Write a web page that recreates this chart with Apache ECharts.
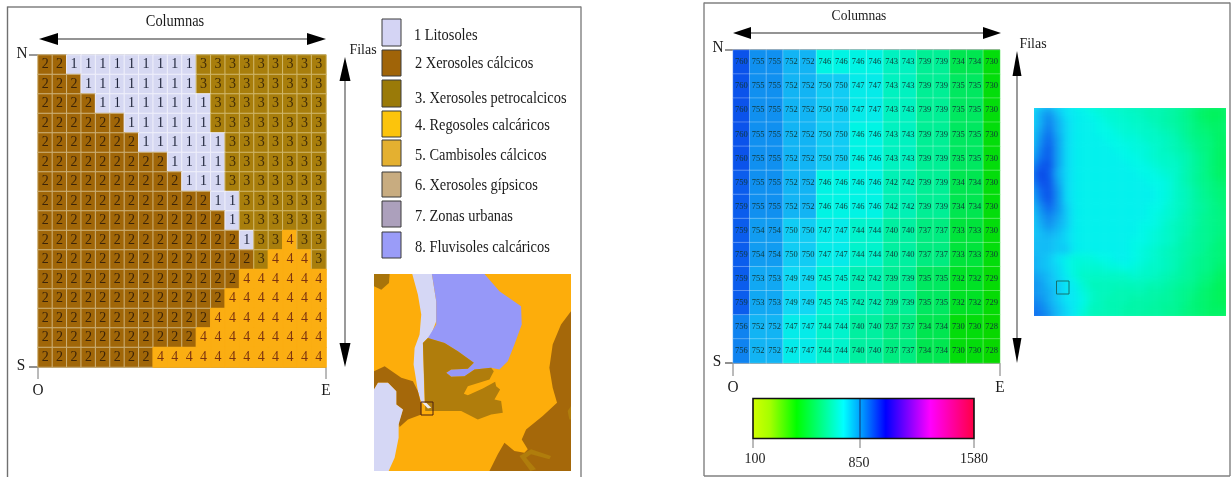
<!DOCTYPE html>
<html>
<head>
<meta charset="utf-8">
<style>
html,body{margin:0;padding:0;background:#fff}
#c{position:absolute;left:0;top:0;width:1231px;height:477px;filter:blur(0.45px);z-index:2}
#demClip{position:absolute;left:1034px;top:108px;width:192px;height:208px;overflow:hidden;z-index:1}
#dem{position:absolute;left:-6px;top:-6px;width:204px;height:220px;filter:blur(3.5px)}
</style>
<script src="https://cdn.jsdelivr.net/npm/echarts@6/dist/echarts.min.js"></script>
</head>
<body>
<div id="demClip"><div id="dem"></div></div>
<div id="c"></div>
<script>
// Soil classes per cell, one string per row (north to south), one digit per column
const soilRows = [
  '22111111111333333333',
  '22211111111333333333',
  '22221111111133333333',
  '22222211111133333333',
  '22222221111113333333',
  '22222222211113333333',
  '22222222221113333333',
  '22222222222211333333',
  '22222222222221333333',
  '22222222222222133433',
  '22222222222222234443',
  '22222222222222444444',
  '22222222222224444444',
  '22222222222244444444',
  '22222222222444444444',
  '22222222444444444444'
];
const soilLegend = ['1 Litosoles','2 Xerosoles cálcicos','3. Xerosoles petrocalcicos','4. Regosoles calcáricos',
  '5. Cambisoles cálcicos','6. Xerosoles gípsicos','7. Zonas urbanas','8. Fluvisoles calcáricos'];
const legendColors = ['#d4d4f4','#a06408','#9a7a08','#fcc40c','#e4b030','#c8ac80','#aca0bc','#9a9cf8'];
const soilCellColors = {1:'#d6d8f2',2:'#a06608',3:'#a87e0c',4:'#fbae12'};
const soilBorderColors = {1:'#f0f0fb',2:'#cdb27a',3:'#d0b86c',4:'#fbae12'};
const soilTextColors = {1:'#20263c',2:'#3c2408',3:'#402c08',4:'#7c3410'};

// Elevation per cell, north to south
const elevRows = [
  [760,755,755,752,752,746,746,746,746,743,743,739,739,734,734,730],
  [760,755,755,752,752,750,750,747,747,743,743,739,739,735,735,730],
  [760,755,755,752,752,750,750,747,747,743,743,739,739,735,735,730],
  [760,755,755,752,752,750,750,746,746,743,743,739,739,735,735,730],
  [760,755,755,752,752,750,750,746,746,743,743,739,739,735,735,730],
  [759,755,755,752,752,746,746,746,746,742,742,739,739,734,734,730],
  [759,755,755,752,752,746,746,746,746,742,742,739,739,734,734,730],
  [759,754,754,750,750,747,747,744,744,740,740,737,737,733,733,730],
  [759,754,754,750,750,747,747,744,744,740,740,737,737,733,733,730],
  [759,753,753,749,749,745,745,742,742,739,739,735,735,732,732,729],
  [759,753,753,749,749,745,745,742,742,739,739,735,735,732,732,729],
  [756,752,752,747,747,744,744,740,740,737,737,734,734,730,730,728],
  [756,752,752,747,747,744,744,740,740,737,737,734,734,730,730,728]
];
// Elevation raster of the inset, read by eye
const demRows = [
  [749,751,752,750,749,747,746,745,744,744,743,743,742,742,741,741,740,739,738,736,734,733,733,734],
  [750,753,755,752,749,748,747,746,745,744,744,743,743,742,741,741,740,739,737,735,733,732,732,733],
  [750,753,756,753,750,748,747,747,746,745,744,744,743,743,742,741,740,739,738,736,734,733,733,734],
  [751,754,757,753,750,748,747,747,746,746,745,744,744,743,743,742,741,740,738,736,735,734,733,734],
  [751,755,758,754,750,748,747,747,747,746,746,745,745,744,743,743,742,741,739,737,736,735,733,733],
  [752,756,759,754,750,748,747,747,747,747,746,746,745,745,744,743,742,741,740,738,736,735,733,733],
  [753,757,759,754,750,748,747,747,747,747,747,746,746,745,744,743,743,742,741,739,737,735,733,732],
  [755,759,760,754,750,748,747,747,747,747,747,747,746,746,745,744,743,743,741,739,737,735,733,732],
  [757,761,759,753,750,748,747,747,747,747,747,747,747,746,746,745,744,743,741,739,737,735,733,733],
  [756,760,760,754,750,748,747,747,747,747,747,747,747,747,746,746,745,743,741,739,737,736,734,733],
  [754,758,760,755,750,748,747,747,747,747,747,747,747,747,747,746,745,743,742,740,738,736,735,734],
  [753,757,760,755,750,748,747,747,747,747,747,747,747,747,747,746,745,743,742,740,738,737,735,734],
  [752,755,758,755,751,748,747,747,747,747,747,747,747,747,746,746,744,743,742,740,739,737,736,734],
  [751,754,756,754,751,748,747,747,747,747,747,747,747,747,746,745,744,743,741,740,738,737,736,735],
  [751,753,755,753,751,748,747,747,747,747,747,747,747,746,746,745,743,742,741,740,738,737,736,735],
  [751,752,753,752,750,748,747,747,747,747,747,747,747,746,745,744,743,742,741,739,738,737,736,735],
  [752,752,752,751,750,748,747,747,747,747,747,747,746,746,745,744,743,742,740,739,738,737,735,734],
  [752,752,752,751,751,748,747,747,747,747,747,747,746,745,744,743,742,741,740,739,738,736,735,734],
  [753,752,751,749,747,745,745,745,746,746,747,747,746,745,744,743,742,741,740,738,737,736,735,734],
  [753,752,751,750,747,745,744,744,744,745,745,746,745,744,743,743,742,741,739,738,737,736,734,733],
  [754,753,752,750,748,745,743,743,743,743,743,743,744,743,743,742,741,740,739,738,736,735,733,732],
  [755,754,752,751,749,747,744,742,742,742,742,742,742,742,741,741,740,739,738,737,735,734,732,732],
  [755,754,753,751,749,748,745,743,742,742,741,741,741,741,740,740,739,738,737,736,734,733,732,731],
  [756,755,753,751,749,748,746,743,742,741,741,741,740,740,740,739,739,738,737,735,734,733,732,731],
  [757,756,754,752,750,748,745,742,742,741,741,740,740,740,739,739,738,738,736,735,734,733,733,732],
  [758,757,755,752,750,748,744,742,741,741,741,740,740,739,739,739,738,737,736,735,734,733,733,733]
];
const elevColors = ['#08d800','#00e010','#00e650','#00ec80','#00f0a0','#00f2c0','#00f4e4','#10d8f4','#12b4f4','#1090f0','#0c68f0','#0a48e8'];
const demColors = ['#00ee30','#00f250','#00f470','#00f68c','#00f6a8','#00f8c8','#00f8e8','#08e4f6','#12bcf6','#1090f0','#0c68f0','#0a48e8'];

// Soil inset: outlines in the inset's own map units, with their classes
const insetBackground = '#fdad0b';
const insetRegions = [
  {name:'3', fill:'#a8740a', pts:[[18,18],[65,18],[63,45],[40,65],[18,55]]},
  {name:'1', fill:'#d5d7f5', pts:[[133,18],[192,18],[205,100],[205,160],[190,200],[165,225],[170,405],[160,405],[150,370],[137,290],[140,240],[155,200],[160,140],[150,80]]},
  {name:'8', fill:'#9698f8', pts:[[192,18],[350,18],[395,70],[460,115],[462,170],[440,230],[420,280],[395,305],[370,300],[320,305],[290,325],[250,327],[235,315],[250,305],[300,303],[318,285],[270,250],[230,225],[180,210],[205,170],[205,100]]},
  {name:'3', fill:'#b07d0c', pts:[[165,225],[180,210],[230,225],[270,250],[318,285],[300,303],[250,305],[235,315],[250,327],[290,325],[320,305],[370,300],[378,310],[365,335],[300,355],[288,378],[300,382],[345,362],[382,342],[385,355],[397,365],[380,395],[400,400],[405,435],[370,440],[330,455],[280,430],[172,430]]},
  {name:'2', fill:'#a5680a', pts:[[18,310],[50,295],[100,330],[135,340],[150,370],[160,410],[160,440],[120,455],[95,478],[92,465],[105,425],[85,410],[85,370],[60,345],[30,345],[18,365]]},
  {name:'1', fill:'#d5d7f5', pts:[[18,365],[30,345],[60,345],[85,370],[85,410],[105,425],[92,470],[92,510],[80,570],[62,610],[18,610]]},
  {name:'2', fill:'#a5680a', pts:[[610,130],[580,170],[555,230],[545,300],[555,360],[568,405],[525,445],[475,485],[462,515],[480,545],[470,555],[440,550],[410,525],[390,560],[365,610],[610,610]]},
  {name:'3', fill:'#b07d0c', pts:[[455,565],[490,545],[550,565],[545,575],[490,560],[475,570],[505,605],[488,610]]},
  {name:'3', fill:'#b07d0c', pts:[[610,415],[600,430],[605,455],[610,455]]},
  {name:'1', fill:'#eeeaf0', pts:[[164,406],[175,405],[190,420],[180,422]]}
];

const colorbarStops = [[0,'#d4ff00'],[0.08,'#a4ff00'],[0.2,'#00ff00'],[0.41,'#00ffff'],[0.5,'#0090ff'],[0.6,'#0000ff'],[0.8,'#ff00ff'],[1,'#ff0040']];
const colorbarTicks = ['100','850','1580'];

const SERIF = '"Liberation Serif", serif';
const soilData = [];
soilRows.forEach((row, r) => row.split('').forEach((d, c) => {
  soilData.push({value:[c, r, +d], itemStyle:{color:soilCellColors[d], borderColor:soilBorderColors[d], borderWidth:1},
    label:{color:soilTextColors[d]}});
}));
const elevData = [];
elevRows.forEach((row, r) => row.forEach((v, c) => elevData.push([c, r, v])));
const demData = [];
demRows.forEach((row, r) => row.forEach((v, c) => demData.push([c, r, v])));
const idx = n => Array.from({length:n}, (_, i) => i);

function catAxes(grid, nx, ny){
  return {
    x:{type:'category', gridIndex:grid, data:idx(nx), show:false},
    y:{type:'category', gridIndex:grid, data:idx(ny), show:false, inverse:true}
  };
}
const a0 = catAxes(0, 20, soilRows.length), a2 = catAxes(2, 16, elevRows.length), a3 = catAxes(0, 24, demRows.length);
const a1x = {type:'value', gridIndex:1, min:18, max:610, show:false};
const a1y = {type:'value', gridIndex:1, min:18, max:610, inverse:true, show:false};

// ---- decorations -----
const g = [];
const line = (x1,y1,x2,y2,stroke,w) => g.push({type:'line', silent:true, shape:{x1,y1,x2,y2}, style:{stroke, lineWidth:w||1}});
const text = (x,y,t,size,align) => g.push({type:'text', silent:true, x, y, scaleX:0.9, style:{text:t, font:size+'px '+SERIF, fill:'#1a1a1a', align:align||'center', verticalAlign:'middle'}});
const tri = (pts) => g.push({type:'polygon', silent:true, shape:{points:pts}, style:{fill:'#000'}});
function hArrow(x1,x2,y,len,half){
  line(x1+len-2,y,x2-len+2,y,'#707070',1.4);
  tri([[x1,y],[x1+len,y-half],[x1+len,y+half]]);
  tri([[x2,y],[x2-len,y-half],[x2-len,y+half]]);
}
function vArrow(x,y1,y2,len,half){
  line(x,y1+len-2,x,y2-len+2,'#707070',1.4);
  tri([[x,y1],[x-half,y1+len],[x+half,y1+len]]);
  tri([[x,y2],[x-half,y2-len],[x+half,y2-len]]);
}
// frames
line(7.5,7,581,7,'#808080',1.4); line(7.5,6.5,7.5,477,'#707070',1.4); line(581,6.5,581,477,'#808080',1.4);
line(704,3,1230,3,'#808080',1.4); line(704,2.5,704,476,'#808080',1.4); line(704,476,1230,476,'#808080',1.4); line(1230,2.5,1230,476,'#808080',1.4);

// left panel
text(175,22,'Columnas',16);
hArrow(39,326,39,19,6);
vArrow(345,57,367,24,5.5);
text(363,50,'Filas',15.5);
line(29,55,326,55,'#333',1); line(29,367,326,367,'#222',1.2);
line(38,367,38,379,'#777',1); line(326,367,326,379,'#777',1);
text(22,54,'N',17); text(21,366,'S',17); text(38,391,'O',17); text(326,391,'E',17);

// soil legend
const swatchY = [19,50,80,111,140,172,201,232], swatchH = [27,26,27,26,26,25,26,26], labelY = [36,64,99,126,156,186,217,248];
soilLegend.forEach((name,i) => {
  g.push({type:'rect', silent:true, shape:{x:382,y:swatchY[i],width:19,height:swatchH[i]}, style:{fill:legendColors[i], stroke:'#3a3a3a', lineWidth:1}});
  text(i===0?414:415, labelY[i], name, 16, 'left');
});
// inset location mark
g.push({type:'rect', silent:true, z:20, shape:{x:421,y:402,width:12,height:13}, style:{fill:null, stroke:'#4a2010', lineWidth:1}});

// right panel
text(859,16,'Columnas',15);
hArrow(733,1001,33,18,6);
vArrow(1017,51,363,25,4.5);
text(1033,44,'Filas',15.5);
line(725,50,1000,50,'#333',1); line(725,363,1000,363,'#222',1.2);
line(733,363,733,376,'#777',1); line(1000,363,1000,376,'#777',1);
text(718,48,'N',17); text(717,362,'S',17); text(733,388,'O',17); text(1000,388,'E',17);
g.push({type:'rect', silent:true, z:20, shape:{x:1056.5,y:281,width:12.5,height:13}, style:{fill:null, stroke:'#16706c', lineWidth:1}});

// colour bar
g.push({type:'rect', silent:true, shape:{x:753,y:398.5,width:221,height:40},
  style:{stroke:'#111', lineWidth:1.6, fill:new echarts.graphic.LinearGradient(0,0,1,0,colorbarStops.map(s=>({offset:s[0],color:s[1]})))}});
line(860,399,860,438,'#16306c',1);
[753,860,974].forEach(x => line(x,439,x,448,'#777',1));
text(755,459,colorbarTicks[0],15.5); text(859,463,colorbarTicks[1],15.5); text(974,459,colorbarTicks[2],15.5);

const chart = echarts.init(document.getElementById('c'), null, {renderer:'canvas'});
chart.setOption({
  animation:false,
  backgroundColor:'transparent',
  grid:[
    {left:38, top:55, width:288, height:312},
    {left:374, top:274, width:197, height:197},
    {left:733, top:50, width:267, height:313}
  ],
  xAxis:[a0.x, a1x, a2.x],
  yAxis:[a0.y, a1y, a2.y],
  visualMap:[{show:false, type:'continuous', min:728, max:761, seriesIndex:[2], dimension:2, inRange:{color:elevColors}}],
  graphic:{elements:g},
  series:[
    {type:'heatmap', xAxisIndex:0, yAxisIndex:0, data:soilData, progressive:0,
      label:{show:true, formatter:p=>p.value[2], fontFamily:SERIF, fontSize:14, fontWeight:'normal'}},
    {type:'custom', xAxisIndex:1, yAxisIndex:1, coordinateSystem:'cartesian2d', clip:true,
      data:[{value:[18,18]}].concat(insetRegions.map(r=>({value:r.pts[0], name:r.name}))),
      encode:{x:0,y:1},
      renderItem:(params, api) => {
        const i = params.dataIndex;
        if(i===0){
          const p = [[18,18],[610,18],[610,610],[18,610]].map(q=>api.coord(q));
          return {type:'polygon', shape:{points:p}, style:{fill:insetBackground}};
        }
        const r = insetRegions[i-1];
        return {type:'polygon', shape:{points:r.pts.map(q=>api.coord(q))}, style:{fill:r.fill}};
      }},
    {type:'heatmap', xAxisIndex:2, yAxisIndex:2, data:elevData, progressive:0,
      itemStyle:{borderColor:'rgba(255,255,255,0.28)', borderWidth:1},
      label:{show:true, formatter:p=>p.value[2], color:'#103838', fontFamily:SERIF, fontSize:8.5}}
  ]
});

// Elevation inset, softened like the raster in the reference
const demChart = echarts.init(document.getElementById('dem'), null, {renderer:'canvas'});
demChart.setOption({
  animation:false,
  grid:{left:0, top:0, right:0, bottom:0},
  xAxis:a3.x, yAxis:a3.y,
  visualMap:{show:false, type:'continuous', min:728, max:761, dimension:2, inRange:{color:demColors}},
  series:[{type:'heatmap', data:demData, progressive:0, itemStyle:{borderWidth:0}}]
});
</script>
</body>
</html>
